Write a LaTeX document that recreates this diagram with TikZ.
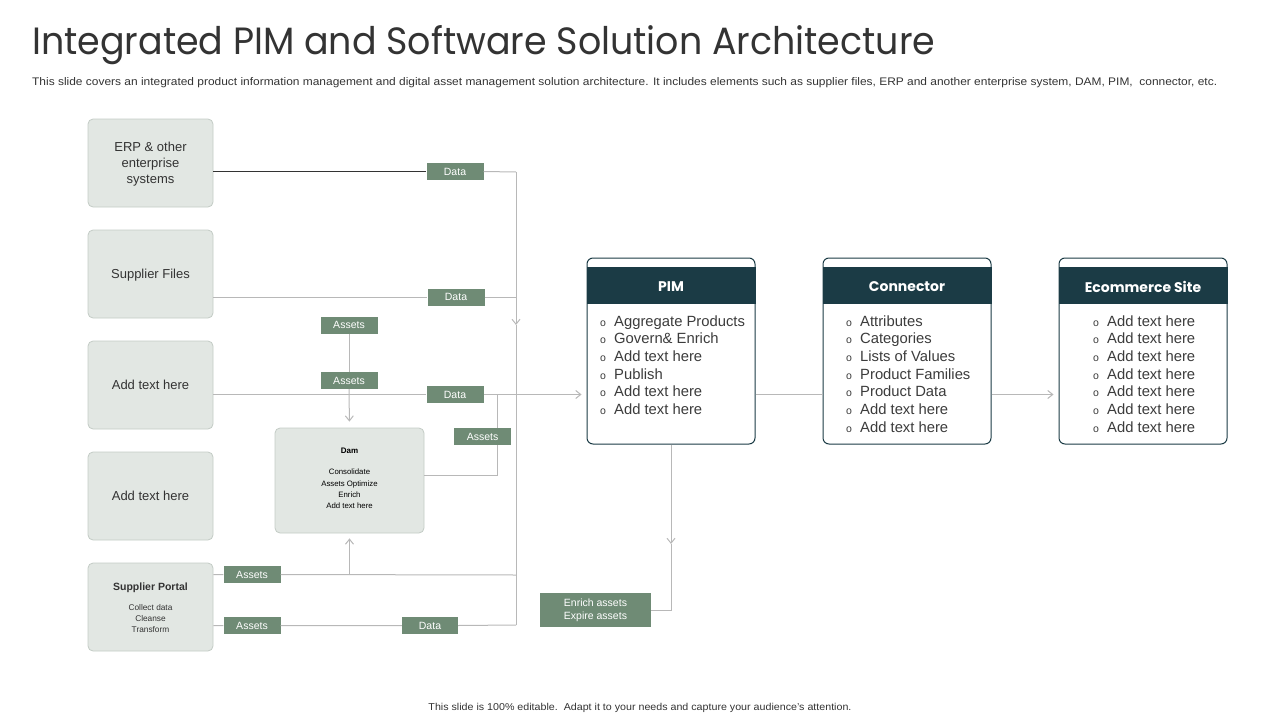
\documentclass[tikz,border=0pt]{standalone}
\usepackage{fontspec}
\setmainfont{Liberation Sans}
\newfontfamily\headfont{Poppins}
\usetikzlibrary{arrows.meta}
\definecolor{boxfill}{HTML}{E2E7E3}
\definecolor{boxline}{HTML}{C3CBC5}
\definecolor{tagfill}{HTML}{6F8B75}
\definecolor{wire}{HTML}{B8B8B8}
\definecolor{darkteal}{HTML}{1B3B45}
\definecolor{txt}{HTML}{333333}
\definecolor{bodytxt}{HTML}{3C3C3C}
\tikzset{
  srcbox/.style={draw=boxline, fill=boxfill, rounded corners=5pt, minimum width=125pt, minimum height=88pt, inner sep=0pt, line width=0.8pt},
  tag/.style={fill=tagfill, text=white, inner sep=0pt, minimum width=57pt, minimum height=17pt, font=\fontsize{10.5}{12}\selectfont},
  wireline/.style={draw=wire, line width=1pt},
  arr/.style={wireline, -{Straight Barb[length=5pt,width=8pt,line width=1pt]}},
  card/.style={draw=darkteal, fill=white, rounded corners=6pt, minimum width=168pt, minimum height=186pt, line width=1pt, inner sep=0pt},
  cardhead/.style={fill=darkteal, text=white, minimum width=169pt, minimum height=37pt, inner sep=0pt, font=\headfont\bfseries\fontsize{14}{16}\selectfont},
  bul/.style={anchor=base west, inner sep=0pt, text=bodytxt, font=\fontsize{14.8}{17}\selectfont},
  boxtxt/.style={align=center, text=txt, font=\fontsize{13}{16}\selectfont, inner sep=0pt}
}
\newcommand{\bl}{\makebox[14pt][l]{\fontsize{10.5}{10}\selectfont o}}
\begin{document}
\begin{tikzpicture}[x=1pt,y=-1pt]
\useasboundingbox (0,0) rectangle (1280,720);
% title
\node[anchor=base west, inner sep=0pt, text=txt] (title) at (32,54.5) {\resizebox{903pt}{\height}{\headfont\fontsize{38}{40}\selectfont Integrated PIM and Software Solution Architecture}};
\node[anchor=base west, inner sep=0pt, text=txt] (sub) at (32,85) {\resizebox{1185pt}{\height}{\fontsize{11}{12}\selectfont This slide covers an integrated product information management and digital asset management solution architecture. It includes elements such as supplier files, ERP and another enterprise system, DAM, PIM,\ \ connector, etc.}};
\node[anchor=base, inner sep=0pt, text=txt] (foot) at (640,710.5) {\resizebox{423pt}{\height}{\fontsize{10}{12}\selectfont This slide is 100\% editable.\ \ Adapt it to your needs and capture your audience's attention.}};

% source boxes
\node[srcbox] (erp) at (150.5,163) {};
\node[boxtxt] (erpt) at (150.5,164.5) {ERP \& other\\enterprise\\systems};
\node[srcbox] (sf) at (150.5,274) {};
\node[boxtxt] (sft) at (150.5,275.5) {Supplier Files};
\node[srcbox] (add1) at (150.5,385) {};
\node[boxtxt] (add1t) at (150.5,384.5) {Add text here};
\node[srcbox] (add2) at (150.5,496) {};
\node[boxtxt] (add2t) at (150.5,495.5) {Add text here};
\node[srcbox] (sp) at (150.5,607) {};
\node[inner sep=0pt, text=txt, font=\bfseries\fontsize{10.5}{12}\selectfont] (spt) at (150.5,588) {Supplier Portal};
\node[inner sep=0pt, text=txt, align=center, font=\fontsize{8.3}{11}\selectfont] (spb) at (150.5,619) {Collect data\\Cleanse\\Transform};

% DAM
\node[srcbox, minimum width=149pt, minimum height=105pt] (dam) at (349.5,480.5) {};
\node[inner sep=0pt, text=black, font=\bfseries\fontsize{8}{10}\selectfont] (damt) at (349.5,451) {Dam};
\node[inner sep=0pt, text=black, align=center, font=\fontsize{7.8}{11.2}\selectfont] (damb) at (349.5,489) {Consolidate\\Assets Optimize\\Enrich\\Add text here};

% junction coordinates
\coordinate (vtop) at (516,172);
\coordinate (vmid) at (516,325);
\coordinate (j2) at (516,297);
\coordinate (j4) at (516,575);
\coordinate (vbot) at (516,625);
\coordinate (b1) at (497,395);
\coordinate (b2) at (497,475);
\coordinate (pdown) at (671,544);
\coordinate (pturn) at (671,610);

% tags
\node[tag] (d1) at (455,171.5) {Data};
\node[tag] (d2) at (456,297) {Data};
\node[tag] (d3) at (455,394.5) {Data};
\node[tag] (a1) at (349,325) {Assets};
\node[tag] (a2) at (349,380.5) {Assets};
\node[tag] (a3) at (482.5,436.5) {Assets};
\node[tag] (a4) at (252,574.5) {Assets};
\node[tag] (a5) at (252,625.5) {Assets};
\node[tag, minimum width=56pt] (d4) at (430,625.5) {Data};
\node[tag, minimum width=111pt, minimum height=34pt, align=center, font=\fontsize{10.5}{13}\selectfont] (enr) at (595.5,610) {Enrich assets\\Expire assets};

% cards
\node[card] (pim) at (671,351) {};
\node[cardhead] (pimh) at (671,285.5) {};
\node[inner sep=0pt, text=white, font=\headfont\bfseries\fontsize{14}{16}\selectfont] (pimt) at (671,287) {PIM};
\node[card] (conn) at (907,351) {};
\node[cardhead] (connh) at (907,285.5) {};
\node[inner sep=0pt, text=white, font=\headfont\bfseries\fontsize{14}{16}\selectfont] (connt) at (907,287) {Connector};
\node[card] (ecom) at (1143,351) {};
\node[cardhead] (ecomh) at (1143,285.5) {};
\node[inner sep=0pt, text=white, font=\headfont\bfseries\fontsize{14}{16}\selectfont] (ecomt) at (1143,287) {Ecommerce Site};

\foreach \t [count=\i] in {Aggregate\ Products, Govern\& Enrich, Add text here, Publish, Add text here, Add text here}
  \node[bul] (pim-\i) at (600,{326+17.7*(\i-1)}) {\bl\t};
\foreach \t [count=\i] in {Attributes, Categories, Lists of Values, Product Families, Product Data, Add text here, Add text here}
  \node[bul] (conn-\i) at (846,{326+17.7*(\i-1)}) {\bl\t};
\foreach \t [count=\i] in {Add text here, Add text here, Add text here, Add text here, Add text here, Add text here, Add text here}
  \node[bul] (ecom-\i) at (1093,{326+17.7*(\i-1)}) {\bl\t};

% connectors
\draw[draw=txt, line width=1pt] (erp.east |- d1) -- (d1.west);
\draw[wireline] (d1.east) -- (vtop);
\draw[arr] (vtop) -- (vmid);
\draw[wireline] (vmid) -- (vbot);
\draw[wireline] (sf.east |- d2) -- (d2.west) (d2.east) -- (j2);
\draw[wireline] (add1.east |- d3) -- (d3.west);
\draw[arr, shorten >=5pt] (d3.east) -- (pim.west |- d3);
\draw[wireline] (b1) -- (a3.north -| b1) (a3.south -| b1) -- (b2) -- (dam.east |- b2);
\draw[wireline] (a1) -- (a2);
\draw[arr, shorten >=6pt] (a2.south) -- (dam.north);
\draw[wireline] (sp.east |- a4) -- (a4.west) (a4.east) -- (j4);
\draw[arr, shorten >=5pt] (dam.south |- j4) -- (dam.south);
\draw[wireline] (sp.east |- a5) -- (a5.west) (a5.east) -- (d4.west) (d4.east) -- (vbot);
\draw[wireline] (pim.east |- d3) -- (conn.west |- d3);
\draw[arr, shorten >=5pt] (conn.east |- d3) -- (ecom.west |- d3);
\draw[arr] (pim.south) -- (pdown);
\draw[wireline] (pdown) -- (pturn) -- (enr.east |- pturn);
\end{tikzpicture}
\end{document}
